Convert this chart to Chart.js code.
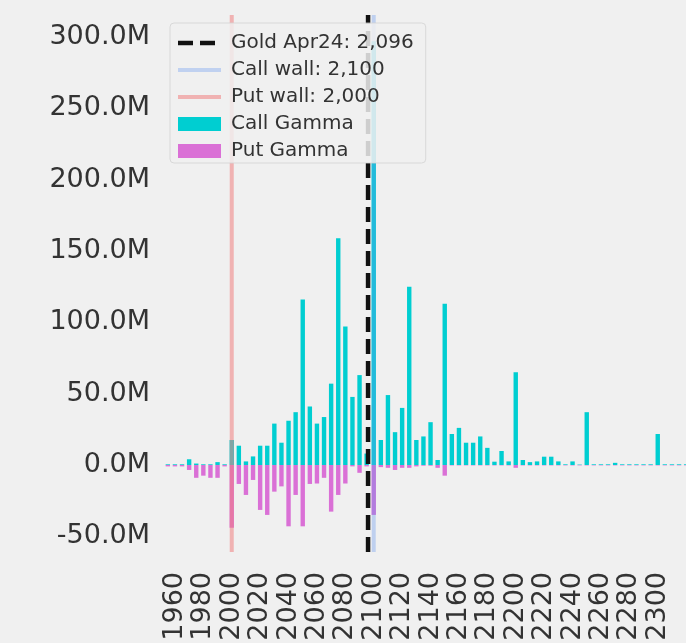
<!DOCTYPE html>
<html>
<head>
<meta charset="utf-8">
<script src="https://cdn.jsdelivr.net/npm/chart.js@4.4.1/dist/chart.umd.min.js"></script>
<style>
  html, body { margin: 0; padding: 0; background: #f0f0f0; }
</style>
</head>
<body>
<canvas id="gex-chart" width="686" height="643"></canvas>
<script>
// strikes (x categories) and gamma per strike, in millions
var strikes = [
  1955, 1960, 1965, 1970, 1975, 1980, 1985, 1990, 1995, 2000,
  2005, 2010, 2015, 2020, 2025, 2030, 2035, 2040, 2045, 2050,
  2055, 2060, 2065, 2070, 2075, 2080, 2085, 2090, 2095, 2100,
  2105, 2110, 2115, 2120, 2125, 2130, 2135, 2140, 2145, 2150,
  2155, 2160, 2165, 2170, 2175, 2180, 2185, 2190, 2195, 2200,
  2205, 2210, 2215, 2220, 2225, 2230, 2235, 2240, 2245, 2250,
  2255, 2260, 2265, 2270, 2275, 2280, 2285, 2290, 2295, 2300,
  2305, 2310, 2315, 2320
];
var callGamma = [
  0.5, 0.5, 0.5, 4, 1, 0.5, 0.5, 2, 0.5, 17.5,
  13.5, 2.5, 6, 13.5, 13.5, 29, 15.6, 31, 37, 116,
  41, 29, 33.6, 57, 159, 97, 47.7, 63, 8, 297,
  17.5, 49, 23, 40, 125, 17.5, 20, 30, 3.5, 113,
  21.7, 26, 15.6, 15.6, 20, 12, 2.3, 9.8, 2.5, 65,
  3.5, 2, 2.5, 5.8, 5.8, 2.5, 0.5, 2.5, 0.3, 37,
  0.5, 0.5, 0.5, 1.5, 0.5, 0.5, 0.5, 0.5, 0.5, 21.7,
  0.5, 0.5, 0.5, 0.5
];
var putGamma = [
  -1, -1, -1, -3.5, -9, -7.5, -9, -9, -1, -44,
  -13.3, -21, -10.5, -31.5, -35, -18.7, -15, -43, -21, -43,
  -13.3, -13, -9, -32.7, -21, -13, -1, -5.5, -1, -35,
  -1.5, -2, -3.5, -2, -2, -1, -0.5, -0.5, -2, -7.5,
  -0.3, -0.3, -0.3, -0.3, -0.3, -0.3, -0.3, -0.3, -0.3, -2,
  -0.3, -0.3, -0.3, -0.3, -0.3, -0.3, -0.3, -0.3, -0.3, -0.3,
  -0.3, -0.3, -0.3, -0.3, -0.3, -0.3, -0.3, -0.3, -0.3, -0.3,
  -0.3, -0.3, -0.3, -0.3
];
var goldPrice = 2096;
var callWall = 2100;
var putWall = 2000;

// axis ranges
var xMin = 1953, xMax = 2319.9;
var yMin = -61, yMax = 315.4;

var fontFamily = "'DejaVu Sans', sans-serif";
Chart.defaults.font.family = fontFamily;
Chart.defaults.color = '#333';

function toPoints(values) {
  return strikes.map(function(s, i) { return { x: s, y: values[i] }; });
}
function vline(x) {
  return [{ x: x, y: yMin }, { x: x, y: yMax }];
}
function fmt(n) {
  return n.toLocaleString('en-US');
}

// legend drawn above the bars, with a translucent box behind it
var legendOnTop = {
  id: 'legendOnTop',
  beforeLayout: function(chart) {
    var legend = chart.legend;
    legend._layers = function() {
      return [{ z: 10, draw: function(area) {
        var ctx = chart.ctx;
        var pad = legend.options.labels.padding;
        var items = legend.legendItems || [];
        ctx.save();
        ctx.font = '20px ' + fontFamily;
        var maxW = 0;
        items.forEach(function(it) { maxW = Math.max(maxW, ctx.measureText(it.text).width); });
        var x = legend.left + pad - 8;
        var y = legend.top - 3;
        var w = 8 + 43 + 10 + maxW + 12;
        var h = items.length * (20 + pad) + 5;
        ctx.beginPath();
        if (ctx.roundRect) ctx.roundRect(x, y, w, h, 4); else ctx.rect(x, y, w, h);
        ctx.fillStyle = 'rgba(240,240,240,0.85)';
        ctx.fill();
        ctx.lineWidth = 1;
        ctx.strokeStyle = 'rgba(210,210,210,0.8)';
        ctx.stroke();
        ctx.restore();
        legend.draw(area);
      } }];
    };
  },
  afterLayout: function(chart) {
    chart.legend.left = chart.chartArea.left + 6;
    chart.legend.top = chart.chartArea.top + 11;
  }
};

new Chart(document.getElementById('gex-chart'), {
  type: 'bar',
  data: {
    datasets: [{
        type: 'line',
        label: 'Gold Apr24: ' + fmt(goldPrice),
        data: vline(goldPrice),
        borderColor: '#111',
        backgroundColor: '#111',
        borderWidth: 4.5,
        borderDash: [15, 7],
        pointRadius: 0,
        pointStyle: 'line',
        order: 0
      }, {
        type: 'line',
        label: 'Call wall: ' + fmt(callWall),
        data: vline(callWall),
        borderColor: 'rgba(100,149,237,0.35)',
        backgroundColor: 'rgba(100,149,237,0.35)',
        borderWidth: 4,
        pointRadius: 0,
        pointStyle: 'line',
        order: 0
      }, {
        type: 'line',
        label: 'Put wall: ' + fmt(putWall),
        data: vline(putWall),
        borderColor: 'rgba(240,128,128,0.55)',
        backgroundColor: 'rgba(240,128,128,0.55)',
        borderWidth: 4,
        pointRadius: 0,
        pointStyle: 'line',
        order: 0
      }, {
        label: 'Call Gamma',
        data: toPoints(callGamma),
        backgroundColor: '#00CED1',
        borderWidth: 0,
        grouped: false,
        barPercentage: 0.62,
        categoryPercentage: 1,
        pointStyle: 'rect',
        order: 1
      }, {
        label: 'Put Gamma',
        data: toPoints(putGamma),
        backgroundColor: '#DA70D6',
        borderWidth: 0,
        grouped: false,
        barPercentage: 0.62,
        categoryPercentage: 1,
        pointStyle: 'rect',
        order: 1
      }]
  },
  options: {
    responsive: false,
    animation: false,
    layout: { padding: { top: 15, right: 0, left: 0, bottom: 0 } },
    scales: {
      x: {
        type: 'linear',
        min: xMin,
        max: xMax,
        offset: false,
        grid: { display: false, drawTicks: false },
        border: { display: false },
        ticks: {
          stepSize: 20,
          includeBounds: false,
          autoSkip: false,
          minRotation: 90,
          maxRotation: 90,
          padding: 20,
          font: { size: 27 },
          color: '#333',
          callback: function(v) { return String(v); }
        },
        afterFit: function(s) { s.height = 91; s.paddingLeft = 0; s.paddingRight = 0; }
      },
      y: {
        min: yMin,
        max: yMax,
        grid: { display: false, drawTicks: false },
        border: { display: false },
        ticks: {
          stepSize: 50,
          includeBounds: false,
          padding: 15,
          font: { size: 27 },
          color: '#333',
          callback: function(v) { return v.toFixed(1) + 'M'; }
        },
        afterFit: function(s) { s.width = 165; s.paddingTop = 0; s.paddingBottom = 0; }
      }
    },
    plugins: {
      tooltip: { enabled: false },
      legend: {
        position: 'chartArea',
        align: 'start',
        labels: {
          usePointStyle: true,
          pointStyleWidth: 43,
          boxHeight: 14,
          padding: 7,
          color: '#333',
          font: { size: 20 },
          generateLabels: function(chart) {
            var items = Chart.defaults.plugins.legend.labels.generateLabels(chart);
            items.forEach(function(it) {
              var ds = chart.data.datasets[it.datasetIndex];
              it.lineWidth = ds.type === 'line' ? ds.borderWidth : 0;
              it.lineDash = ds.borderDash || [];
              it.strokeStyle = ds.borderColor;
              it.fillStyle = ds.backgroundColor;
            });
            return items;
          }
        }
      }
    }
  },
  plugins: [legendOnTop]
});
</script>
</body>
</html>
